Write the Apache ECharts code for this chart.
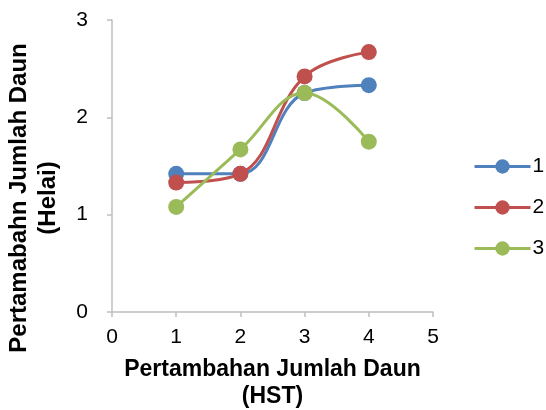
<!DOCTYPE html>
<html><head><meta charset="utf-8">
<script src="https://cdn.jsdelivr.net/npm/echarts@6/dist/echarts.min.js"></script>
<style>html,body{margin:0;padding:0;background:#fff}#c{width:546px;height:410px}</style>
</head><body><div id="c"></div>
<script>
const xValues = [1, 2, 3, 4];
const seriesNames = ['1', '2', '3'];
const series1 = [1.42, 1.42, 2.25, 2.33];
const series2 = [1.33, 1.42, 2.42, 2.67];
const series3 = [1.08, 1.67, 2.25, 1.75];
const colors = ['#4f81bd', '#c0504d', '#9bbb59'];
const xTitle = 'Pertambahan Jumlah Daun\n(HST)';
const yTitle = 'Pertamabahn Jumlah Daun\n(Helai)';

const allData = [series1, series2, series3];
const chart = echarts.init(document.getElementById('c'));
const font = 'Liberation Sans, Arial, sans-serif';
chart.setOption({
  animation: false,
  textStyle: { fontFamily: font },
  grid: { left: 112, right: 113, top: 20, bottom: 98, containLabel: false, outerBoundsMode: 'none' },
  legend: {
    orient: 'vertical', left: 468, top: 151, itemGap: 20,
    itemWidth: 56, itemHeight: 18,
    lineStyle: { width: 3 },
    textStyle: { fontSize: 21, color: '#000', fontFamily: font, padding: [0,0,0,-3] },
    data: seriesNames
  },
  xAxis: {
    type: 'value', min: 0, max: 5, interval: 1,
    name: xTitle, nameLocation: 'middle', nameGap: 44,
    nameTextStyle: { fontSize: 23, fontWeight: 'bold', color: '#000', lineHeight: 27, fontFamily: font },
    axisLine: { lineStyle: { color: '#bfbfbf', width: 1.5 } },
    axisTick: { show: true, length: 5, lineStyle: { color: '#bfbfbf', width: 1.5 } },
    axisLabel: { fontSize: 21, color: '#000', margin: 15, fontFamily: font },
    splitLine: { show: false }
  },
  yAxis: {
    type: 'value', min: 0, max: 3, interval: 1,
    name: yTitle, nameLocation: 'middle', nameGap: 49, nameRotate: 90,
    nameTextStyle: { fontSize: 24, fontWeight: 'bold', color: '#000', lineHeight: 29, fontFamily: font, padding: [0, 64, 0, 0] },
    axisLine: { show: true, lineStyle: { color: '#bfbfbf', width: 1.5 } },
    axisTick: { show: true, length: 5, lineStyle: { color: '#bfbfbf', width: 1.5 } },
    axisLabel: { fontSize: 21, color: '#000', margin: 24, fontFamily: font },
    splitLine: { show: false }
  },
  series: allData.map((d, i) => ({
    name: seriesNames[i], type: 'line', smooth: 0.4,
    data: xValues.map((x, j) => [x, d[j]]),
    symbol: 'circle', symbolSize: 16,
    lineStyle: { width: 3, color: colors[i] },
    itemStyle: { color: colors[i] },
    z: 2 + i
  }))
});
</script></body></html>
